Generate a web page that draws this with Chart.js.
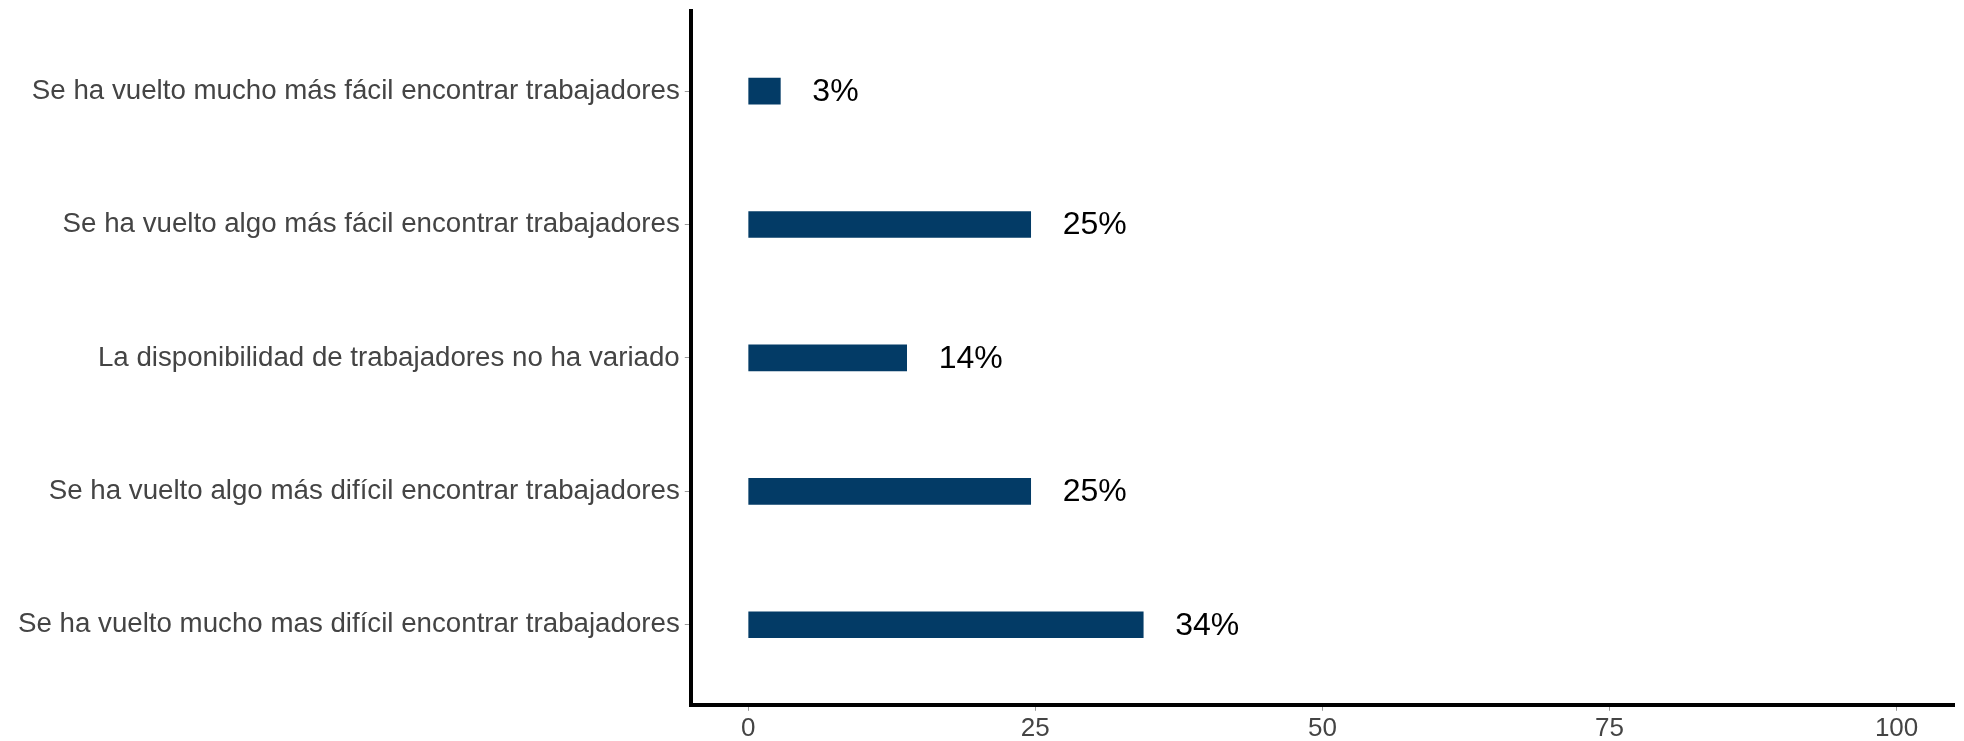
<!DOCTYPE html>
<html>
<head>
<meta charset="utf-8">
<script src="https://cdn.jsdelivr.net/npm/chart.js@4"></script>
<style>
  html, body { margin: 0; padding: 0; background: #fff; }
  #wrap { width: 1964px; height: 741px; }
</style>
</head>
<body>
<div id="wrap"><canvas id="barChart"></canvas></div>
<script>
"use strict";

const categories = [
	"Se ha vuelto mucho más fácil encontrar trabajadores",
	"Se ha vuelto algo más fácil encontrar trabajadores",
	"La disponibilidad de trabajadores no ha variado",
	"Se ha vuelto algo más difícil encontrar trabajadores",
	"Se ha vuelto mucho mas difícil encontrar trabajadores",
];
const shares = [2.8, 24.6, 13.8, 24.6, 34.4];
const xTicks = [0, 25, 50, 75, 100];

Chart.defaults.font.family = "'Liberation Sans', Arial, sans-serif";

const valueLabels = {
	id: "valueLabels",
	afterDatasetsDraw(chart) {
		const ctx = chart.ctx;
		const meta = chart.getDatasetMeta(0);
		ctx.save();
		ctx.fillStyle = "#000";
		ctx.font = "32px 'Liberation Sans', Arial, sans-serif";
		ctx.textAlign = "left";
		ctx.textBaseline = "middle";
		meta.data.forEach((bar, i) => {
			ctx.fillText(Math.round(shares[i]) + "%", bar.x + 32, bar.y + 1);
		});
		ctx.restore();
	},
};

new Chart(document.getElementById("barChart"), {
	type: "bar",
	data: {
		datasets: [
			{
				data: shares.map((v, i) => ({ x: v, y: i })),
				backgroundColor: "#033b66",
				borderWidth: 0,
				barThickness: 26,
			},
		],
	},
	options: {
		indexAxis: "y",
		responsive: true,
		maintainAspectRatio: false,
		animation: false,
		layout: { padding: { top: 11, right: 10, bottom: -5, left: 13 } },
		plugins: {
			legend: { display: false },
			tooltip: { enabled: false },
		},
		scales: {
			x: {
				type: "linear",
				min: -5,
				max: 105,
				offset: false,
				afterBuildTicks: (axis) => {
					axis.ticks = xTicks.map((v) => ({ value: v }));
				},
				border: { display: true, color: "#000", width: 4 },
				grid: {
					offset: false,
					drawOnChartArea: false,
					drawTicks: true,
					tickLength: 6,
					tickColor: "#9a9a9a",
				},
				ticks: {
					color: "#444",
					font: { size: 26 },
					padding: 2,
				},
			},
			y: {
				type: "linear",
				reverse: true,
				min: -0.6,
				max: 4.6,
				offset: false,
				afterBuildTicks: (axis) => {
					axis.ticks = categories.map((c, i) => ({ value: i }));
				},
				afterFit: (axis) => {
					axis.paddingTop = 0;
					axis.paddingBottom = 0;
				},
				border: { display: true, color: "#000", width: 4 },
				grid: {
					offset: false,
					drawOnChartArea: false,
					drawTicks: true,
					tickLength: 6,
					tickColor: "#9a9a9a",
				},
				ticks: {
					color: "#444",
					font: { size: 27.7 },
					padding: 5,
					callback: (value) => categories[value],
				},
			},
		},
	},
	plugins: [valueLabels],
});
</script>
</body>
</html>
